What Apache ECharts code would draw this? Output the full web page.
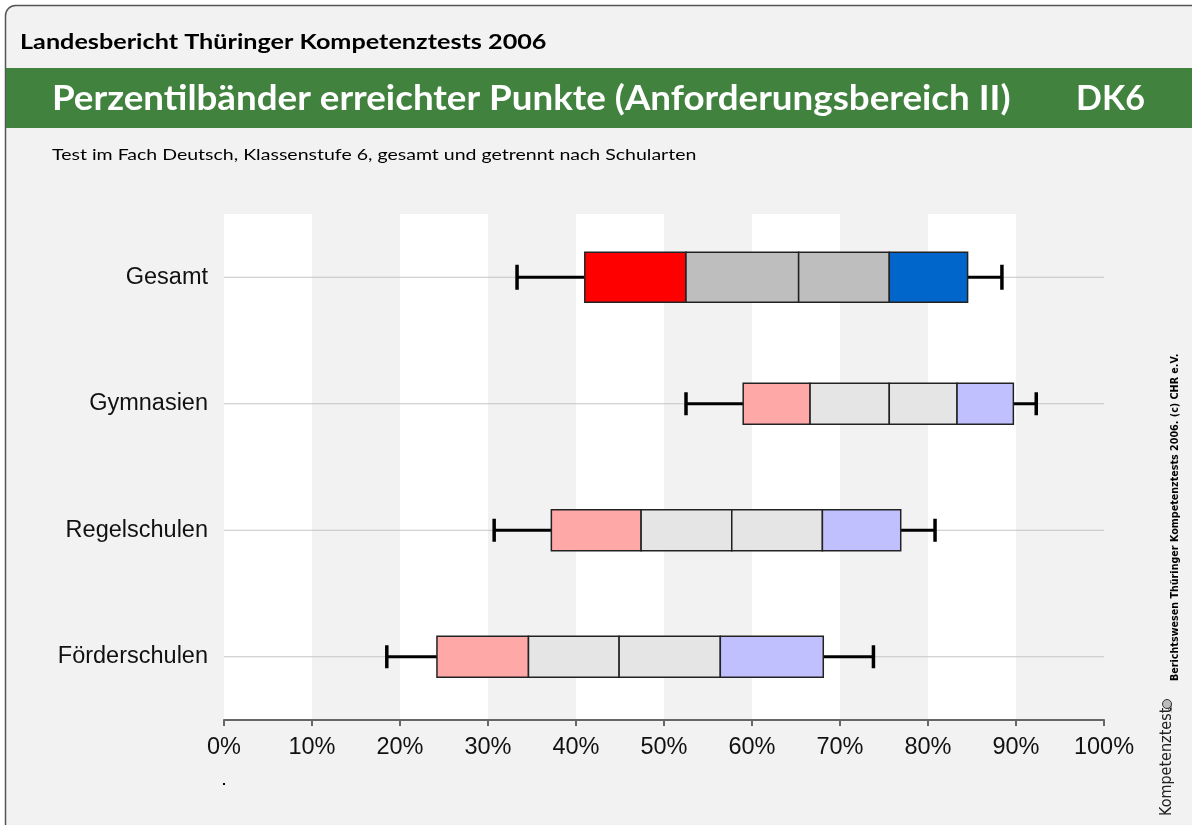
<!DOCTYPE html>
<html>
<head>
<meta charset="utf-8">
<script src="https://cdn.jsdelivr.net/npm/echarts@6/dist/echarts.min.js"></script>
<style>
html,body{margin:0;padding:0;background:#ffffff;}
#chart{width:1192px;height:825px;}
</style>
</head>
<body>
<div id="chart"></div>
<script>
// ---- data ----
const categories = ['Gesamt', 'Gymnasien', 'Regelschulen', 'Förderschulen'];
const p05 = [33.3, 52.5, 30.7, 18.5];
const p10 = [41.0, 59.0, 37.2, 24.2];
const p25 = [52.5, 66.6, 47.4, 34.6];
const p50 = [65.3, 75.6, 57.7, 44.9];
const p75 = [75.6, 83.3, 68.0, 56.4];
const p90 = [84.5, 89.7, 76.9, 68.1];
const p95 = [88.4, 92.3, 80.8, 73.8];
const xTicks = [0, 10, 20, 30, 40, 50, 60, 70, 80, 90, 100];

const headerTitle = 'Landesbericht Thüringer Kompetenztests 2006';
const mainTitle = 'Perzentilbänder erreichter Punkte (Anforderungsbereich II)';
const code = 'DK6';
const subTitle = 'Test im Fach Deutsch, Klassenstufe 6, gesamt und getrennt nach Schularten';
const sideNote = 'Berichtswesen Thüringer Kompetenztests 2006. (c) CHR e.V.';

const rows = categories.map((c, i) => [i, p05[i], p10[i], p25[i], p50[i], p75[i], p90[i], p95[i]]);

const chart = echarts.init(document.getElementById('chart'), null, {renderer: 'canvas'});

function renderItem(params, api) {
  const idx = api.value(0);
  const v = [1, 2, 3, 4, 5, 6, 7].map(k => api.value(k));
  const xs = v.map(val => api.coord([val, idx])[0]);
  const y = api.coord([0, idx])[1];
  const xL = api.coord([xTicks[0], idx])[0];
  const xR = api.coord([xTicks[xTicks.length - 1], idx])[0];
  const main = idx === 0;
  const h = main ? 50 : 41;
  const capH = main ? 25 : 23;
  const cols = main ? ['#ff0000', '#bebebe', '#bebebe', '#0066cc']
                    : ['#ffa8a8', '#e5e5e5', '#e5e5e5', '#c0c0ff'];
  const children = [];
  children.push({type: 'line', shape: {x1: xL, y1: y, x2: xR, y2: y},
    style: {stroke: '#c4c4c4', lineWidth: 1}});
  children.push({type: 'line', shape: {x1: xs[0], y1: y, x2: xs[1], y2: y},
    style: {stroke: '#000', lineWidth: 3}});
  children.push({type: 'line', shape: {x1: xs[5], y1: y, x2: xs[6], y2: y},
    style: {stroke: '#000', lineWidth: 3}});
  children.push({type: 'line', shape: {x1: xs[0], y1: y - capH / 2, x2: xs[0], y2: y + capH / 2},
    style: {stroke: '#000', lineWidth: 3.5}});
  children.push({type: 'line', shape: {x1: xs[6], y1: y - capH / 2, x2: xs[6], y2: y + capH / 2},
    style: {stroke: '#000', lineWidth: 3.5}});
  for (let k = 0; k < 4; k++) {
    children.push({type: 'rect',
      shape: {x: xs[k + 1], y: y - h / 2, width: xs[k + 2] - xs[k + 1], height: h},
      style: {fill: cols[k], stroke: '#222', lineWidth: 1.5}});
  }
  return {type: 'group', children: children};
}

const fam = 'Lato, "Open Sans", sans-serif';
const option = {
  backgroundColor: '#ffffff',
  animation: false,
  graphic: [
    {type: 'rect', z: -10, shape: {x: 5.5, y: 5.5, width: 1200, height: 830, r: 10},
      style: {fill: '#f2f2f2', stroke: '#555555', lineWidth: 1.5}},
    {type: 'rect', z: -9, shape: {x: 6, y: 68, width: 1190, height: 60},
      style: {fill: '#41823f'}},
    {type: 'text', x: 20, y: 42, scaleX: 1.2,
      style: {text: headerTitle, fill: '#000', font: 'bold 21px ' + fam,
        textAlign: 'left', textVerticalAlign: 'middle'}},
    {type: 'text', x: 52, y: 99, scaleX: 1.08,
      style: {text: mainTitle, fill: '#ffffff', font: 'bold 34px ' + fam,
        textAlign: 'left', textVerticalAlign: 'middle'}},
    {type: 'text', x: 1145, y: 99, scaleX: 1.0,
      style: {text: code, fill: '#ffffff', font: 'bold 34px ' + fam,
        textAlign: 'right', textVerticalAlign: 'middle'}},
    {type: 'text', x: 52, y: 155, scaleX: 1.22,
      style: {text: subTitle, fill: '#000', font: '16px ' + fam,
        textAlign: 'left', textVerticalAlign: 'middle'}},
    {type: 'text', x: 1170, y: 681, rotation: Math.PI / 2,
      style: {text: sideNote, fill: '#000', font: 'bold 9.6px "DejaVu Sans", sans-serif',
        textAlign: 'left', textVerticalAlign: 'top'}},
    {type: 'text', x: 1159, y: 816, rotation: Math.PI / 2,
      style: {text: 'Kompetenztest', fill: '#222', font: '16px "Liberation Sans Narrow", "DejaVu Sans Condensed", sans-serif',
        textAlign: 'left', textVerticalAlign: 'top'}},
    {type: 'text', x: 1167, y: 713, rotation: Math.PI / 2,
      style: {text: '.de', fill: '#222', font: '7px sans-serif',
        textAlign: 'left', textVerticalAlign: 'top'}},
    {type: 'circle', shape: {cx: 1167, cy: 704, r: 4.5},
      style: {fill: '#bbb', stroke: '#333', lineWidth: 1}},
    {type: 'rect', shape: {x: 223, y: 783, width: 2, height: 2}, style: {fill: '#000'}}
  ],
  grid: {left: 224, right: 88, top: 214, height: 506, containLabel: false},
  xAxis: {
    type: 'value', min: 0, max: 100, interval: 10,
    axisLine: {show: true, lineStyle: {color: '#666', width: 2}},
    axisTick: {show: true, length: 6, lineStyle: {color: '#666', width: 2}},
    axisLabel: {fontSize: 23.5, color: '#111', margin: 16, fontFamily: '"Liberation Sans", Arial, sans-serif',
      formatter: v => v + '%'},
    splitLine: {show: false},
    splitArea: {show: true, areaStyle: {color: ['#ffffff', '#f2f2f2']}}
  },
  yAxis: {
    type: 'category', data: categories, inverse: true,
    axisLine: {show: false}, axisTick: {show: false},
    axisLabel: {fontSize: 23.5, color: '#111', margin: 16, fontFamily: '"Liberation Sans", Arial, sans-serif'},
    splitLine: {show: false}
  },
  series: [{
    type: 'custom', renderItem: renderItem, clip: false,
    encode: {x: [1, 2, 3, 4, 5, 6, 7], y: 0},
    data: rows
  }]
};
chart.setOption(option);
</script>
</body>
</html>
